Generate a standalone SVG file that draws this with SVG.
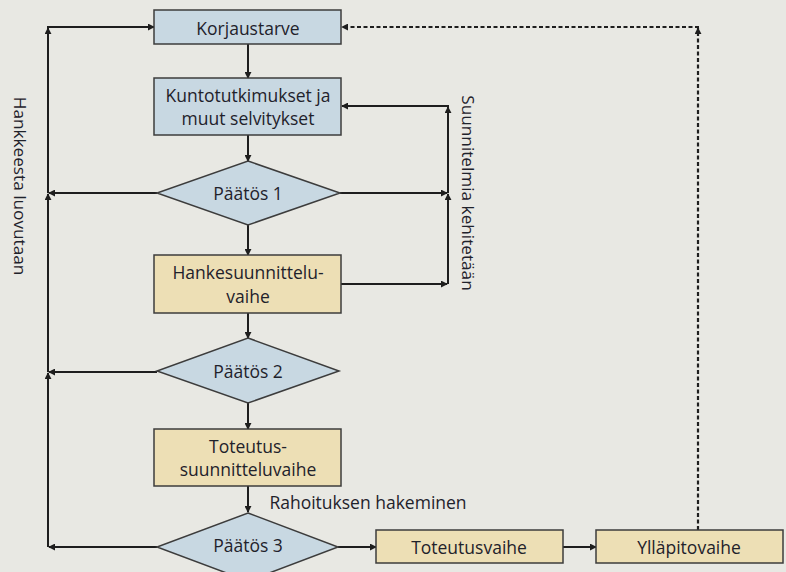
<svg xmlns="http://www.w3.org/2000/svg" width="786" height="572" viewBox="0 0 786 572">
<defs>
<marker id="ah" viewBox="0 0 8 8" refX="7" refY="4" markerWidth="7" markerHeight="7" markerUnits="userSpaceOnUse" orient="auto">
<path d="M0,0 L8,4 L0,8 z" fill="#1e1e1e"/>
</marker>
</defs>
<style>
text{font-family:"Open Sans","Liberation Sans",sans-serif;font-size:17.5px;fill:#1f222b;text-anchor:middle;dominant-baseline:central}
.rot{font-size:17.2px}
.blue{fill:#c8d8e2;stroke:#3c3c3c;stroke-width:1.5}
.yel{fill:#eddfb5;stroke:#3c3c3c;stroke-width:1.5}
.ln{fill:none;stroke:#1e1e1e;stroke-width:2;marker-end:url(#ah)}
.ds{fill:none;stroke:#1e1e1e;stroke-width:2.2;stroke-dasharray:4 2.5;marker-end:url(#ah)}
</style>
<rect width="786" height="572" fill="#e8e8e3"/>
<g id="connectors">
<line class="ln" x1="248" y1="44" x2="248" y2="78"/>
<line class="ln" x1="248" y1="135" x2="248" y2="161"/>
<line class="ln" x1="248" y1="225" x2="248" y2="255"/>
<line class="ln" x1="248" y1="313" x2="248" y2="338"/>
<line class="ln" x1="248" y1="403" x2="248" y2="429"/>
<line class="ln" x1="248" y1="486" x2="248" y2="512"/>
<line class="ln" x1="157" y1="193" x2="49" y2="193"/>
<line class="ln" x1="157" y1="372" x2="49" y2="372"/>
<line class="ln" x1="157" y1="547" x2="49" y2="547"/>
<line class="ln" x1="48" y1="547" x2="48" y2="373"/>
<line class="ln" x1="48" y1="372" x2="48" y2="194"/>
<line class="ln" x1="48" y1="193" x2="48" y2="28"/>
<line class="ln" x1="47" y1="27" x2="154" y2="27"/>
<line class="ln" x1="340" y1="193" x2="447" y2="193"/>
<line class="ln" x1="341" y1="284" x2="447" y2="284"/>
<line class="ln" x1="448" y1="284" x2="448" y2="194"/>
<line class="ln" x1="448" y1="193" x2="448" y2="107"/>
<line class="ln" x1="449" y1="106" x2="342" y2="106"/>
<line class="ln" x1="338" y1="547" x2="376" y2="547"/>
<line class="ln" x1="563" y1="547" x2="596" y2="547"/>
<line class="ds" x1="698" y1="530" x2="698" y2="28"/>
<line class="ds" x1="699" y1="27" x2="342" y2="27"/>
</g>
<g id="korjaustarve">
<rect class="blue" x="154" y="10" width="187" height="34"/>
<text x="248" y="28">Korjaustarve</text>
</g>
<g id="kuntotutkimukset">
<rect class="blue" x="154" y="78" width="187" height="57"/>
<text x="248" y="95">Kuntotutkimukset ja</text>
<text x="248" y="118">muut selvitykset</text>
</g>
<g id="paatos1">
<polygon class="blue" points="248,161 340,193 248,225 157,193"/>
<text x="248" y="193">Päätös 1</text>
</g>
<g id="hankesuunnittelu">
<rect class="yel" x="154" y="255" width="187" height="58"/>
<text x="248" y="272">Hankesuunnittelu-</text>
<text x="248" y="296">vaihe</text>
</g>
<g id="paatos2">
<polygon class="blue" points="248,338 339,371 248,403 157,371"/>
<text x="248" y="371">Päätös 2</text>
</g>
<g id="toteutussuunnittelu">
<rect class="yel" x="154" y="429" width="187" height="57"/>
<text x="248" y="446">Toteutus-</text>
<text x="248" y="469">suunnitteluvaihe</text>
</g>
<g id="paatos3">
<polygon class="blue" points="248,513 338,547 248,581 157,547"/>
<text x="248" y="545">Päätös 3</text>
</g>
<g id="toteutusvaihe">
<rect class="yel" x="376" y="530" width="187" height="33"/>
<text x="469" y="547">Toteutusvaihe</text>
</g>
<g id="yllapitovaihe">
<rect class="yel" x="596" y="530" width="187" height="33"/>
<text x="689" y="547">Ylläpitovaihe</text>
</g>
<g id="labels">
<text x="368" y="502">Rahoituksen hakeminen</text>
<text class="rot" transform="translate(20,186) rotate(90)">Hankkeesta luovutaan</text>
<text class="rot" transform="translate(468,193) rotate(90)">Suunnitelmia kehitetään</text>
</g>
</svg>
